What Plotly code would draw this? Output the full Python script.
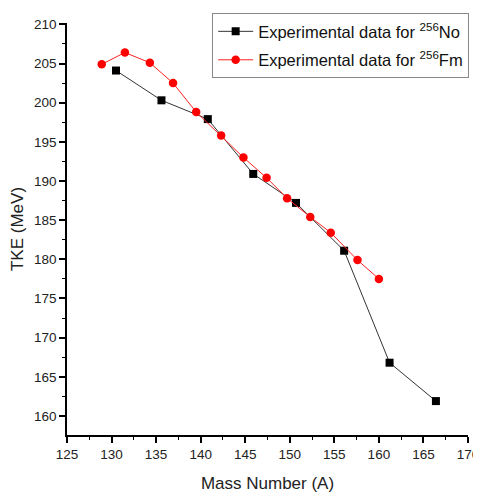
import plotly.graph_objects as go

# 256No (black squares)
no_mass = [130.5, 135.6, 140.8, 145.9, 150.7, 156.1, 161.2, 166.4]
no_tke = [204.1, 200.3, 197.9, 190.9, 187.2, 181.1, 166.8, 161.9]

# 256Fm (red circles)
fm_mass = [128.9, 131.5, 134.3, 136.9, 139.5, 142.3, 144.8, 147.4, 149.7, 152.3, 154.6, 157.6, 160.0]
fm_tke = [204.9, 206.4, 205.1, 202.5, 198.8, 195.8, 193.0, 190.4, 187.8, 185.4, 183.4, 179.9, 177.5]

x_ticks = list(range(125, 171, 5))
y_ticks = list(range(160, 211, 5))

FONT = "Liberation Sans, Arial, sans-serif"

fig = go.Figure()
fig.add_trace(
    go.Scatter(
        x=no_mass,
        y=no_tke,
        mode="lines+markers",
        name="Experimental data for <sup>256</sup>No",
        legendgroup="no",
        line=dict(color="#333333", width=1),
        marker=dict(symbol="square", size=8, color="black"),
    )
)
fig.add_trace(
    go.Scatter(
        x=fm_mass,
        y=fm_tke,
        mode="lines+markers",
        name="Experimental data for <sup>256</sup>Fm",
        legendgroup="fm",
        line=dict(color="#ff2020", width=1),
        marker=dict(symbol="circle", size=8.5, color="#ff0000"),
    )
)

axis_common = dict(
    showline=True,
    linecolor="black",
    linewidth=1.5,
    showgrid=False,
    zeroline=False,
    automargin=False,
    ticks="outside",
    ticklen=6,
    tickwidth=1.5,
    tickcolor="black",
    tickfont=dict(family=FONT, size=13.5, color="#222222"),
    minor=dict(ticks="outside", ticklen=3, tickwidth=1, tickcolor="black", dtick=2.5),
)

fig.update_xaxes(
    range=[125, 170],
    tickvals=x_ticks,
    title=dict(text="Mass Number (A)", font=dict(family=FONT, size=17, color="#222222"), standoff=16),
    **axis_common,
)
fig.update_yaxes(
    range=[157.57, 210.17],
    tickvals=y_ticks,
    title=dict(text="TKE (MeV)", font=dict(family=FONT, size=17, color="#222222"), standoff=14),
    **axis_common,
)

# the page body adds an 8px margin, so the figure is drawn 8px smaller
fig.update_layout(
    width=473,
    height=490,
    paper_bgcolor="white",
    plot_bgcolor="white",
    margin=dict(l=59, r=13, t=15, b=63, autoexpand=False),
    showlegend=True,
    legend=dict(
        x=0.362,
        y=1.024,
        xanchor="left",
        yanchor="top",
        bordercolor="#888888",
        borderwidth=1,
        bgcolor="white",
        font=dict(family=FONT, size=16.5, color="#111111"),
        tracegroupgap=4,
        itemwidth=35,
    ),
)

fig.write_html("out.html")
